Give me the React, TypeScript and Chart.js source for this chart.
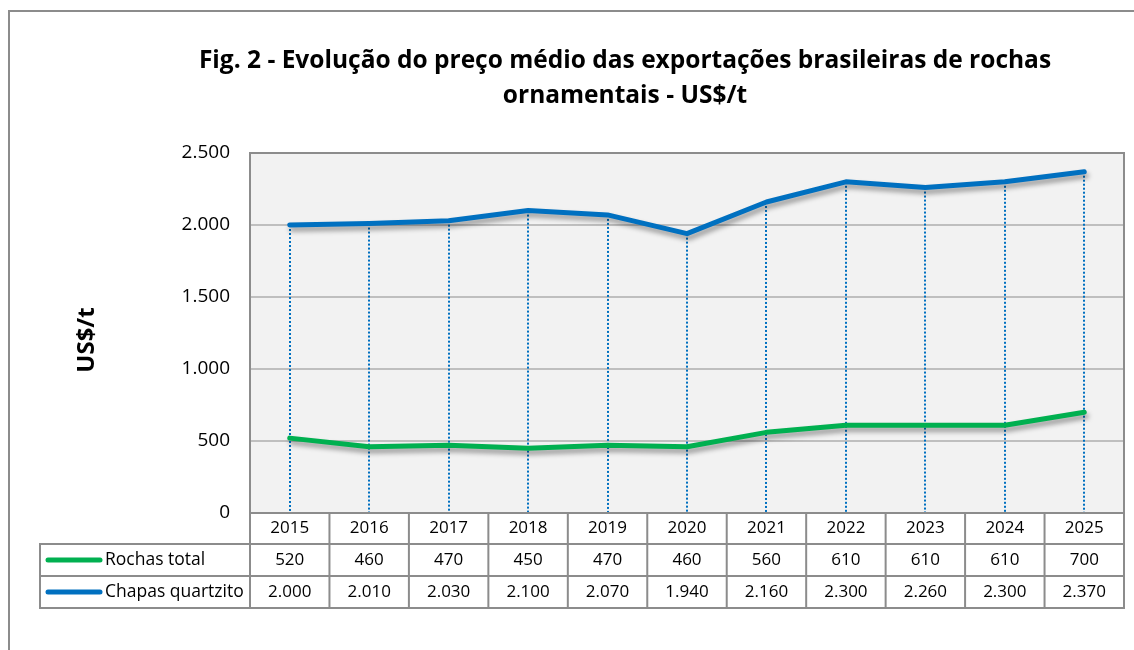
import React, { useEffect, useRef } from "react";
import { Chart, registerables } from "chart.js";

Chart.register(...registerables);

const years = ["2015", "2016", "2017", "2018", "2019", "2020", "2021", "2022", "2023", "2024", "2025"];
const rochasTotal = [520, 460, 470, 450, 470, 460, 560, 610, 610, 610, 700];
const chapasQuartzito = [2000, 2010, 2030, 2100, 2070, 1940, 2160, 2300, 2260, 2300, 2370];
const seriesNames = ["Rochas total", "Chapas quartzito"];
const seriesColors = ["#00b050", "#0070c0"];
const titleLines = ["Fig. 2 - Evolução do preço médio das exportações brasileiras de rochas", "ornamentais - US$/t"];
const yAxisTitle = "US$/t";

const FONT = "'Open Sans', 'Noto Sans', sans-serif";
const fmt = (n: number) => String(n).replace(/\B(?=(\d{3})+(?!\d))/g, ".");

const decorPlugin = {
  id: "decor",
  beforeDraw(chart: any) {
    const { ctx, chartArea } = chart;
    ctx.save();
    ctx.fillStyle = "#ffffff";
    ctx.fillRect(0, 0, chart.width, chart.height);
    ctx.strokeStyle = "#8c8c8c";
    ctx.lineWidth = 2;
    ctx.strokeRect(9, 11, 3000, 3000);
    ctx.fillStyle = "#f2f2f2";
    ctx.fillRect(chartArea.left, chartArea.top, chartArea.right - chartArea.left, chartArea.bottom - chartArea.top);
    // title
    ctx.fillStyle = "#000000";
    ctx.font = `bold 24.5px ${FONT}`;
    ctx.textAlign = "center";
    ctx.textBaseline = "middle";
    ctx.fillText(titleLines[0], 625, 61);
    ctx.fillText(titleLines[1], 625, 96);
    // y axis title
    ctx.save();
    ctx.font = `bold 24px ${FONT}`;
    ctx.translate(87, 340);
    ctx.rotate(-Math.PI / 2);
    ctx.fillText(yAxisTitle, 0, 0);
    ctx.restore();
    ctx.restore();
  },
  beforeDatasetsDraw(chart: any) {
    const { ctx, chartArea } = chart;
    ctx.save();
    // drop lines
    const m0 = chart.getDatasetMeta(0).data;
    const m1 = chart.getDatasetMeta(1).data;
    ctx.strokeStyle = "#0070c0";
    ctx.lineWidth = 2;
    ctx.setLineDash([2, 2]);
    for (let i = 0; i < m1.length; i++) {
      const top = Math.min(m0[i].y, m1[i].y);
      ctx.beginPath();
      ctx.moveTo(Math.round(m1[i].x), top);
      ctx.lineTo(Math.round(m1[i].x), chartArea.bottom);
      ctx.stroke();
    }
    ctx.setLineDash([]);
    ctx.strokeStyle = "#8c8c8c";
    ctx.lineWidth = 2;
    ctx.strokeRect(chartArea.left, chartArea.top, chartArea.right - chartArea.left, chartArea.bottom - chartArea.top);
    ctx.restore();
  },
  beforeDatasetDraw(chart: any) {
    const { ctx } = chart;
    ctx.save();
    ctx.shadowColor = "rgba(0,0,0,0.38)";
    ctx.shadowBlur = 5;
    ctx.shadowOffsetX = 2;
    ctx.shadowOffsetY = 4;
  },
  afterDatasetDraw(chart: any) {
    chart.ctx.restore();
  },
  afterDraw(chart: any) {
    const { ctx, chartArea, scales } = chart;
    const x = scales.x;
    const n = years.length;
    const pts = years.map((_, i) => x.getPixelForValue(i));
    const bounds: number[] = [chartArea.left];
    for (let i = 1; i < n; i++) bounds.push((pts[i - 1] + pts[i]) / 2);
    bounds.push(chartArea.right);
    const r0 = chartArea.bottom;
    const rows = [r0, r0 + 31, r0 + 63, r0 + 95];
    const legendLeft = 40;
    ctx.save();
    ctx.strokeStyle = "#8c8c8c";
    ctx.lineWidth = 2;
    ctx.beginPath();
    for (const b of bounds) {
      ctx.moveTo(b, rows[0]);
      ctx.lineTo(b, rows[3]);
    }
    ctx.moveTo(legendLeft, rows[1]);
    ctx.lineTo(legendLeft, rows[3]);
    for (let r = 1; r < 4; r++) {
      ctx.moveTo(legendLeft - 1, rows[r]);
      ctx.lineTo(chartArea.right + 1, rows[r]);
    }
    ctx.stroke();

    ctx.fillStyle = "#000000";
    ctx.font = `17px ${FONT}`;
    ctx.textAlign = "center";
    ctx.textBaseline = "middle";
    const data = [rochasTotal, chapasQuartzito];
    for (let i = 0; i < n; i++) {
      ctx.fillText(years[i], pts[i], (rows[0] + rows[1]) / 2);
      for (let s = 0; s < 2; s++) {
        ctx.fillText(fmt(data[s][i]), pts[i], (rows[s + 1] + rows[s + 2]) / 2);
      }
    }
    for (let s = 0; s < 2; s++) {
      const cy = (rows[s + 1] + rows[s + 2]) / 2;
      ctx.strokeStyle = seriesColors[s];
      ctx.lineWidth = 5;
      ctx.lineCap = "round";
      ctx.beginPath();
      ctx.moveTo(48, cy);
      ctx.lineTo(100, cy);
      ctx.stroke();
      ctx.textAlign = "left";
      ctx.font = `17.5px ${FONT}`;
      ctx.fillText(seriesNames[s], 105, cy);
    }
    ctx.restore();
  },
};

export default function App() {
  const ref = useRef<HTMLCanvasElement | null>(null);
  useEffect(() => {
    if (!ref.current) return;
    const chart = new Chart(ref.current, {
      type: "line",
      data: {
        labels: years,
        datasets: [
          {
            label: seriesNames[0],
            data: rochasTotal,
            borderColor: seriesColors[0],
            backgroundColor: seriesColors[0],
            borderWidth: 5,
            pointRadius: 0,
            borderCapStyle: "round",
            borderJoinStyle: "round",
            tension: 0,
          },
          {
            label: seriesNames[1],
            data: chapasQuartzito,
            borderColor: seriesColors[1],
            backgroundColor: seriesColors[1],
            borderWidth: 5,
            pointRadius: 0,
            borderCapStyle: "round",
            borderJoinStyle: "round",
            tension: 0,
          },
        ],
      },
      options: {
        animation: false,
        responsive: false,
        devicePixelRatio: 1,
        layout: { padding: { left: 0, top: 153, right: 10, bottom: 137 } },
        plugins: { legend: { display: false }, title: { display: false }, tooltip: { enabled: false } },
        scales: {
          x: { display: false, offset: true },
          y: {
            min: 0,
            max: 2500,
            afterFit: (s: any) => {
              s.width = 250;
            },
            ticks: {
              stepSize: 500,
              padding: 20,
              color: "#000000",
              font: { size: 19, family: FONT },
              callback: (v: any) => fmt(Number(v)),
            },
            grid: { color: "#bfbfbf", lineWidth: 2, drawTicks: false },
            border: { display: false },
          },
        },
      },
      plugins: [decorPlugin],
    } as any);
    return () => chart.destroy();
  }, []);
  return (
    <div style={{ position: "fixed", left: 0, top: 0, width: 1134, height: 650 }}>
      <canvas ref={ref} width={1134} height={650} style={{ width: 1134, height: 650 }} />
    </div>
  );
}
